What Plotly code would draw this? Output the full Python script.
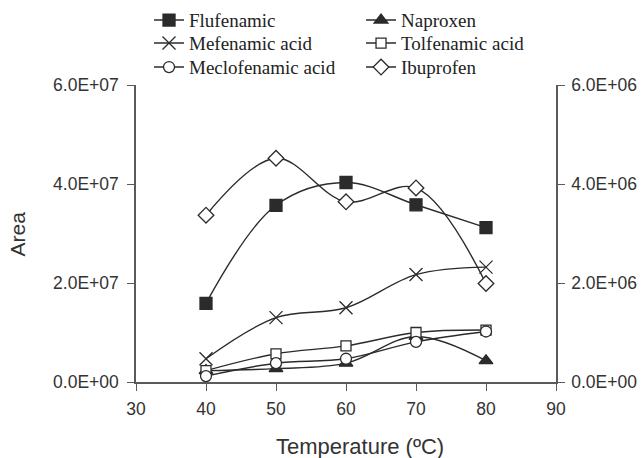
import plotly.graph_objects as go

temperature = [40, 50, 60, 70, 80]
flufenamic = [1.59e7, 3.57e7, 4.03e7, 3.58e7, 3.12e7]
naproxen = [0.23e7, 0.27e7, 0.38e7, 0.92e7, 0.43e7]
mefenamic = [0.47e7, 1.30e7, 1.50e7, 2.17e7, 2.32e7]
tolfenamic = [0.23e7, 0.57e7, 0.73e7, 1.00e7, 1.05e7]
meclofenamic = [0.12e7, 0.38e7, 0.47e7, 0.81e7, 1.02e7]
ibuprofen = [3.37e6, 4.52e6, 3.64e6, 3.92e6, 1.99e6]  # right axis

x_ticks = [30, 40, 50, 60, 70, 80, 90]
y_left_ticks = [0, 2e7, 4e7, 6e7]
y_left_text = ["0.0E+00", "2.0E+07", "4.0E+07", "6.0E+07"]
y_right_ticks = [0, 2e6, 4e6, 6e6]
y_right_text = ["0.0E+00", "2.0E+06", "4.0E+06", "6.0E+06"]

DARK = "#2b2b2b"
AXIS = "#5a5a5a"
TXT = "#333333"

series = [
    ("Flufenamic", flufenamic, "square", DARK, 12, "y", "legend"),
    ("Naproxen", naproxen, "triangle-up", DARK, 12, "y", "legend"),
    ("Mefenamic acid", mefenamic, "x-thin", DARK, 13, "y", "legend2"),
    ("Tolfenamic acid", tolfenamic, "square", "white", 10, "y", "legend2"),
    ("Meclofenamic acid", meclofenamic, "circle", "white", 11, "y", "legend3"),
    ("Ibuprofen", ibuprofen, "diamond", "white", 12, "y2", "legend3"),
]

fig = go.Figure()
for name, vals, sym, fill, size, ax, lg in series:
    fig.add_trace(go.Scatter(
        x=temperature, y=vals, name=name, yaxis=ax, legend=lg,
        mode="lines+markers",
        line=dict(color=DARK, width=1.4, shape="spline", smoothing=1.0),
        marker=dict(symbol=sym, size=size, color=fill,
                    line=dict(color=DARK, width=1.3)),
    ))

axis_common = dict(
    showline=True, linecolor=AXIS, linewidth=1.5,
    ticks="outside", ticklen=7, tickwidth=1.3, tickcolor=AXIS,
    showgrid=False, zeroline=False,
    tickfont=dict(family="Liberation Sans, Arial, sans-serif", size=17.5, color=TXT),
)

LEG_FONT = dict(family="Liberation Serif, Times New Roman, serif", size=19, color="#222222")


def legend_row(top_px):
    return dict(
        orientation="h", x=0.031, xanchor="left",
        y=1 + (85 - top_px) / 297, yanchor="top",
        entrywidth=167, entrywidthmode="pixels", itemwidth=30,
        font=LEG_FONT, bgcolor="rgba(0,0,0,0)", traceorder="normal",
    )


fig.update_layout(
    width=642, height=458,
    margin=dict(l=136, r=86, t=85, b=76, autoexpand=False),
    paper_bgcolor="white", plot_bgcolor="white",
    showlegend=True,
    legend=legend_row(1.2),
    legend2=legend_row(24.2),
    legend3=legend_row(48.2),
    xaxis=dict(range=[30, 90], tickvals=x_ticks, ticklabelstandoff=3, **axis_common),
    yaxis=dict(range=[0, 6e7], tickvals=y_left_ticks, ticktext=y_left_text,
               ticklabelstandoff=5, **axis_common),
    yaxis2=dict(range=[0, 6e6], tickvals=y_right_ticks, ticktext=y_right_text,
                overlaying="y", side="right", ticklabelstandoff=3, **axis_common),
    annotations=[
        dict(text="Temperature (ºC)", xref="paper", yref="paper", x=0.533, y=-0.2155,
             xanchor="center", yanchor="middle", showarrow=False,
             font=dict(family="Liberation Sans, Arial, sans-serif", size=22, color=TXT)),
        dict(text="Area", xref="paper", yref="paper", x=-0.281, y=0.5, textangle=-90,
             xanchor="center", yanchor="middle", showarrow=False,
             font=dict(family="Liberation Sans, Arial, sans-serif", size=21, color=TXT)),
    ],
)

fig.write_html("out.html")
